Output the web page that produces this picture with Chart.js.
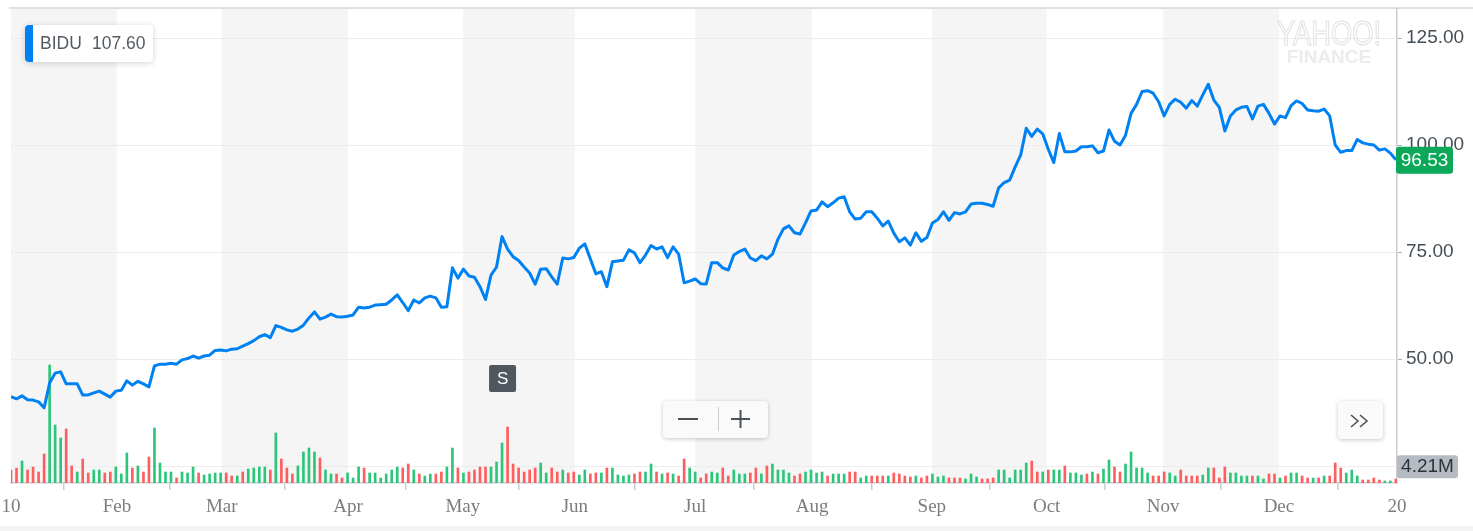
<!DOCTYPE html>
<html>
<head>
<meta charset="utf-8">
<script src="https://cdn.jsdelivr.net/npm/chart.js@4.4.1/dist/chart.umd.min.js"></script>
<style>
	html, body { margin: 0; padding: 0; background: #fff; }
	#wrap { width: 1473px; height: 531px; }
</style>
</head>
<body>
<div id="wrap"><canvas id="chart" width="1473" height="531"></canvas></div>
<script>
// BIDU daily close, one value per trading day (Jan 10 .. Dec 20)
var prices = [
	41.2, 40.7, 41.4, 40.5, 40.4, 40.0, 38.6, 44.4, 46.7, 47.0,
	44.2, 44.2, 44.2, 41.6, 41.6, 42.1, 42.5, 41.8, 41.1, 42.5,
	42.7, 44.9, 43.9, 44.8, 44.2, 43.5, 48.4, 48.8, 48.8, 49.0,
	48.8, 49.8, 50.1, 50.7, 50.2, 50.7, 50.9, 52.0, 52.1, 51.9,
	52.3, 52.4, 53.0, 53.6, 54.3, 55.2, 55.7, 55.0, 57.8, 57.4,
	56.8, 56.5, 57.0, 57.9, 59.6, 61.0, 59.3, 59.8, 60.5, 59.9,
	59.8, 60.0, 60.3, 62.1, 61.9, 62.1, 62.6, 62.7, 62.8, 63.8,
	65.0, 63.2, 61.3, 63.8, 63.1, 64.3, 64.7, 64.3, 62.1, 62.2,
	71.3, 68.9, 71.0, 69.4, 69.1, 66.9, 63.9, 69.6, 71.5, 78.6,
	75.7, 73.9, 73.0, 71.5, 70.1, 67.5, 71.0, 71.1, 69.2, 67.5,
	73.6, 73.4, 73.7, 75.9, 76.9, 73.4, 69.9, 70.4, 66.9, 72.7,
	72.9, 73.1, 75.5, 74.8, 72.5, 74.3, 76.5, 75.7, 76.2, 73.7,
	76.2, 74.5, 67.8, 68.2, 68.7, 67.6, 67.5, 72.5, 72.5, 71.3,
	70.8, 74.3, 75.1, 75.7, 73.6, 73.0, 74.1, 73.4, 74.5, 78.0,
	80.4, 81.1, 79.5, 79.2, 81.8, 84.6, 84.8, 86.7, 85.6, 86.5,
	87.6, 87.9, 84.4, 82.7, 82.9, 84.4, 84.4, 82.9, 81.1, 82.2,
	79.4, 77.4, 78.3, 76.6, 79.5, 77.5, 78.4, 81.8, 82.6, 84.4,
	82.4, 84.2, 83.9, 84.4, 86.2, 86.4, 86.4, 86.1, 85.7, 90.0,
	91.2, 91.8, 94.9, 97.7, 103.9, 102.0, 103.7, 102.6, 99.0, 95.9,
	102.7, 98.4, 98.4, 98.6, 99.6, 99.6, 99.8, 98.2, 98.6, 103.5,
	100.9, 100.0, 102.3, 107.4, 109.5, 112.5, 112.7, 112.1, 110.1, 106.8,
	109.5, 110.7, 110.0, 108.6, 110.4, 109.1, 111.7, 114.2, 110.5, 108.8,
	103.3, 106.8, 108.2, 108.8, 109.0, 106.1, 109.1, 109.5, 107.4, 104.9,
	106.8, 106.4, 109.2, 110.3, 109.7, 108.2, 108.0, 107.9, 108.4, 106.8,
	100.0, 98.3, 98.7, 98.7, 101.3, 100.5, 100.2, 100.0, 98.8, 99.1,
	98.1, 96.53
]

// daily volume, millions
var volumes = [
	3.25, 3.7, 5.5, 3.25, 4.0, 2.75, 7.25, 29.5, 14.5, 11.25,
	13.5, 4.25, 2.75, 6.0, 2.5, 3.25, 3.25, 2.5, 2.75, 4.0,
	2.25, 7.5, 3.75, 4.25, 2.75, 6.5, 13.75, 5.0, 2.75, 2.75,
	1.25, 2.75, 2.5, 4.0, 2.5, 2.0, 2.25, 2.5, 2.5, 2.5,
	1.75, 1.75, 2.75, 3.5, 3.75, 4.0, 4.0, 3.25, 12.5, 6.0,
	3.75, 2.25, 4.25, 7.75, 8.75, 7.75, 6.25, 3.25, 2.25, 2.25,
	1.25, 2.5, 1.25, 4.0, 3.75, 2.5, 2.5, 1.25, 2.25, 3.25,
	4.0, 3.75, 4.75, 3.25, 2.25, 1.75, 2.25, 2.25, 2.75, 4.0,
	8.75, 3.75, 2.5, 2.75, 3.25, 4.0, 4.0, 4.0, 5.25,
	10.0, 14.0, 4.75, 3.75, 2.75, 3.25, 3.75, 5.0, 2.5, 3.75,
	2.75, 3.25, 2.5, 2.75, 2.0, 3.25, 2.25, 2.5, 2.5, 3.75,
	3.75, 2.0, 1.75, 2.0, 2.25, 2.75, 2.75, 4.75, 2.75, 2.25,
	2.5, 2.25, 1.75, 6.0, 3.75, 2.75, 1.25, 2.25, 2.75, 2.5,
	3.75, 1.75, 3.25, 2.25, 2.25, 2.5, 3.75, 2.25, 4.25, 4.75,
	3.25, 3.25, 2.5, 1.75, 2.25, 2.75, 3.25, 2.5, 2.75, 1.75,
	2.25, 2.25, 2.25, 2.75, 2.75, 1.25, 1.75, 1.75, 1.75, 1.75,
	1.75, 2.5, 2.25, 1.75, 1.5, 1.75, 1.25, 1.75, 2.25, 1.5,
	1.75, 1.25, 1.25, 1.25, 1.0, 2.25, 1.5, 1.0, 1.0, 1.25,
	3.25,
	3.25, 1.25, 3.25, 3.25, 5.0, 5.5, 2.75, 2.75, 3.25, 3.25,
	3.25, 4.25, 2.5, 2.5, 2.0, 2.25, 2.75, 2.25, 3.5, 5.75,
	4.0, 2.75, 4.75, 7.75, 3.75, 3.75, 2.5, 1.75, 1.75, 2.75,
	2.5, 1.75, 3.25, 1.75, 1.75, 1.75, 2.0, 3.75, 3.75, 1.25,
	4.0, 2.5, 2.5, 1.75, 1.75, 1.75, 1.75, 1.0, 2.25, 2.25,
	1.25, 1.75, 2.5, 2.5, 1.75, 1.25, 1.25, 1.25, 1.75, 1.75,
	5.0, 3.75, 2.5, 3.25, 1.75, 0.75, 0.75, 1.25, 0.75, 0.5,
	0.5, 1.0
]

// 1 = closed up that day, 0 = closed down
var volumeUp = [
	0, 0, 1, 0, 0, 0, 0, 1, 1, 1, 0, 0, 1, 0, 0, 1, 1, 0, 0, 1,
	1, 1, 0, 1, 0, 0, 1, 1, 1, 1, 0, 1, 1, 1, 0, 1, 1, 1, 1, 0,
	0, 1, 0, 1, 1, 1, 1, 0, 1, 0, 0, 0, 1, 1, 1, 1, 0, 1, 1, 0,
	0, 1, 1, 1, 0, 1, 1, 1, 1, 1, 1, 0, 0, 1, 0, 1, 1, 0, 0, 1,
	1, 0, 1, 0, 0, 0, 0, 1, 1,
	1, 0, 0, 0, 0, 0, 0, 1, 1, 0, 0, 1, 0, 0, 1, 1, 0, 0, 1, 0,
	1, 1, 1, 1, 0, 0, 1, 1, 0, 1, 0, 1, 0, 0, 1, 1, 0, 0, 1, 1,
	0, 0, 1, 1, 1, 0, 0, 1, 0, 1, 1, 1, 1, 0, 0, 1, 1, 1, 1, 0,
	1, 1, 1, 0, 0, 1, 1, 0, 0, 0, 1, 0, 0, 0, 0, 1, 0, 0, 1, 1,
	1, 0, 0, 0, 1, 1, 1, 0, 0, 0, 1,
	1, 1, 1, 1, 1, 0, 0, 1, 0, 1, 1, 0, 1, 1, 1, 0, 1, 0, 1, 1,
	0, 0, 1, 1, 1, 1, 1, 0, 0, 0, 1, 1, 0, 0, 0, 0, 1, 1, 0, 0,
	0, 1, 1, 1, 1, 0, 1, 1, 0, 0, 1, 0, 1, 1, 0, 0, 1, 0, 1, 0,
	0, 0, 1, 1, 1, 0, 0, 0, 0, 1, 1, 0
]

// month starts, in trading-day index
var monthTicks = [0, 19.2, 38.2, 61.1, 81.9, 102.2, 124.0, 145.2, 166.9, 187.7, 208.8, 229.8, 251.2]
var monthLabels = ['10', 'Feb', 'Mar', 'Apr', 'May', 'Jun', 'Jul', 'Aug', 'Sep', 'Oct', 'Nov', 'Dec', '20']
var priceTicks = [50, 75, 100, 125]

var symbol = 'BIDU'
var symbolValue = '107.60'
var volumeMark = 4.21
var volumeMarkLabel = '4.21M'
var splitIndex = 89

var BLUE = '#0081f2'
var SANS = "'Liberation Sans', Arial, sans-serif"
var SERIF = "'Liberation Serif', 'DejaVu Serif', serif"

function roundRect(ctx, x, y, w, h, r) {
	ctx.beginPath()
	ctx.moveTo(x + r, y)
	ctx.arcTo(x + w, y, x + w, y + h, r)
	ctx.arcTo(x + w, y + h, x, y + h, r)
	ctx.arcTo(x, y + h, x, y, r)
	ctx.arcTo(x, y, x + w, y, r)
	ctx.closePath()
}

var decor = {
	id: 'decor',
	beforeDraw: function (chart) {
		var ctx = chart.ctx, ca = chart.chartArea, x = chart.scales.x
		ctx.save()
		ctx.fillStyle = '#fff'
		ctx.fillRect(0, 0, chart.width, chart.height)
		// month bands
		ctx.fillStyle = '#f5f5f5'
		for (var i = 0; i < monthTicks.length - 1; i += 2) {
			var a = x.getPixelForValue(monthTicks[i]), b = x.getPixelForValue(monthTicks[i + 1])
			ctx.fillRect(a, ca.top, b - a, ca.bottom - ca.top)
		}
		// frame bits
		ctx.fillStyle = '#dcdfe3'
		ctx.fillRect(ca.left - 2, ca.top - 2, chart.width - ca.left + 2, 2)
		ctx.fillStyle = '#f4f4f4'
		ctx.fillRect(0, 526, chart.width, chart.height - 526)
		ctx.restore()
	},
	beforeDatasetsDraw: function (chart) {
		var ctx = chart.ctx, ca = chart.chartArea, yv = chart.scales.yv
		ctx.save()
		var gy = Math.round(yv.getPixelForValue(volumeMark)) + 0.5
		ctx.strokeStyle = '#ececec'
		ctx.lineWidth = 1
		ctx.beginPath()
		ctx.moveTo(ca.left, gy)
		ctx.lineTo(ca.right, gy)
		ctx.stroke()
		// watermark
		ctx.textAlign = 'center'
		ctx.textBaseline = 'alphabetic'
		ctx.save()
		ctx.translate(1329, 45)
		ctx.scale(0.78, 1)
		ctx.font = '35px ' + SANS
		ctx.strokeStyle = '#e2e2e2'
		ctx.lineWidth = 1.2
		ctx.strokeText('YAHOO!', 0, 0)
		ctx.restore()
		ctx.font = 'bold 19px ' + SANS
		ctx.fillStyle = '#ececec'
		ctx.fillText('FINANCE', 1329, 63)
		ctx.restore()
	},
	afterDraw: function (chart) {
		var ctx = chart.ctx, x = chart.scales.x, y = chart.scales.y, yv = chart.scales.yv
		ctx.save()

		// legend chip
		ctx.shadowColor = 'rgba(0,0,0,0.18)'
		ctx.shadowBlur = 6
		ctx.shadowOffsetY = 1
		ctx.fillStyle = '#fff'
		roundRect(ctx, 25, 25, 128, 37, 4)
		ctx.fill()
		ctx.shadowColor = 'transparent'
		ctx.save()
		roundRect(ctx, 25, 25, 128, 37, 4)
		ctx.clip()
		ctx.fillStyle = BLUE
		ctx.fillRect(25, 25, 8, 37)
		ctx.restore()
		ctx.fillStyle = '#545b62'
		ctx.font = '17.5px ' + SANS
		ctx.textBaseline = 'middle'
		ctx.textAlign = 'left'
		ctx.fillText(symbol, 40, 44)
		ctx.fillText(symbolValue, 92, 44)

		// split marker
		var sx = x.getPixelForValue(splitIndex)
		ctx.fillStyle = '#50575e'
		roundRect(ctx, sx - 13, 365, 27, 27, 2)
		ctx.fill()
		ctx.fillStyle = '#fff'
		ctx.font = '17px ' + SANS
		ctx.textAlign = 'center'
		ctx.fillText('S', sx + 0.5, 379)

		// zoom buttons
		ctx.shadowColor = 'rgba(0,0,0,0.22)'
		ctx.shadowBlur = 4
		ctx.shadowOffsetY = 1
		ctx.fillStyle = '#fafafa'
		roundRect(ctx, 663, 401, 105, 37, 4)
		ctx.fill()
		roundRect(ctx, 1338, 401, 45, 38, 4)
		ctx.fill()
		ctx.shadowColor = 'transparent'
		ctx.strokeStyle = '#cfcfcf'
		ctx.lineWidth = 1
		ctx.beginPath()
		ctx.moveTo(718.5, 407)
		ctx.lineTo(718.5, 431)
		ctx.stroke()
		ctx.strokeStyle = '#4a5158'
		ctx.lineWidth = 2
		ctx.beginPath()
		ctx.moveTo(678, 419)
		ctx.lineTo(698, 419)
		ctx.moveTo(731, 419)
		ctx.lineTo(750, 419)
		ctx.moveTo(740.5, 410)
		ctx.lineTo(740.5, 428)
		ctx.stroke()
		ctx.lineWidth = 1.6
		ctx.beginPath()
		ctx.moveTo(1351, 415)
		ctx.lineTo(1358, 421)
		ctx.lineTo(1351, 427)
		ctx.moveTo(1360, 415)
		ctx.lineTo(1367, 421)
		ctx.lineTo(1360, 427)
		ctx.stroke()

		// last price badge
		var py = y.getPixelForValue(prices[prices.length - 1])
		ctx.fillStyle = '#0aa858'
		roundRect(ctx, 1396, py - 13, 57, 27, 3)
		ctx.fill()
		ctx.fillStyle = '#fff'
		ctx.font = '19px ' + SANS
		ctx.textAlign = 'center'
		ctx.fillText(prices[prices.length - 1].toFixed(2), 1424.5, py + 1)

		// volume badge
		var vy = yv.getPixelForValue(volumeMark)
		ctx.fillStyle = '#b6bbc3'
		roundRect(ctx, 1397, vy - 11, 61, 23, 3)
		ctx.fill()
		ctx.fillStyle = '#2f3439'
		ctx.fillText(volumeMarkLabel, 1427.5, vy + 1)

		ctx.restore()
	}
}

var priceData = prices.map(function (v, i) { return { x: i, y: v } })
var volumeData = volumes.map(function (v, i) { return { x: i, y: v } })
var volumeColors = volumeUp.map(function (u) { return u ? '#2cc67b' : '#ff5e5e' })

var chart = new Chart(document.getElementById('chart').getContext('2d'), {
	type: 'line',
	data: {
		datasets: [
			{
				label: symbol,
				data: priceData,
				borderColor: BLUE,
				borderWidth: 3,
				borderJoinStyle: 'round',
				pointRadius: 0,
				tension: 0,
				fill: false,
				yAxisID: 'y',
				order: 0,
			},
			{
				type: 'bar',
				label: 'Volume',
				data: volumeData,
				backgroundColor: volumeColors,
				barThickness: 2,
				yAxisID: 'yv',
				order: 1,
			},
		],
	},
	options: {
		responsive: false,
		animation: false,
		events: [],
		layout: { padding: { left: 11, top: 9, right: 0, bottom: 0 } },
		plugins: { legend: { display: false }, tooltip: { enabled: false } },
		scales: {
			x: {
				type: 'linear',
				min: 0,
				max: 251.2,
				offset: false,
				afterBuildTicks: function (s) { s.ticks = monthTicks.map(function (v) { return { value: v } }) },
				afterFit: function (s) { s.height = 48; s.paddingLeft = 0; s.paddingRight = 0 },
				ticks: {
					autoSkip: false,
					maxRotation: 0,
					padding: 6,
					color: '#7d7d7d',
					font: { family: SERIF, size: 19 },
					callback: function (v, i) { return monthLabels[i] },
				},
				grid: { drawOnChartArea: false, drawTicks: true, tickLength: 7, color: '#c9cdd2', lineWidth: 1.5 },
				border: { display: true, color: '#c9cdd2', width: 1.5 },
			},
			y: {
				type: 'linear',
				position: 'right',
				min: 21.03,
				max: 131.78,
				afterBuildTicks: function (s) { s.ticks = priceTicks.map(function (v) { return { value: v } }) },
				afterFit: function (s) { s.width = 76; s.paddingTop = 0; s.paddingBottom = 0 },
				ticks: {
					padding: 4,
					color: '#464e56',
					font: { family: SANS, size: 19 },
					callback: function (v) { return Number(v).toFixed(2) },
				},
				grid: { color: '#ececec', lineWidth: 1, tickLength: 5, tickColor: '#aab0b6' },
				border: { display: true, color: '#c9cdd2', width: 1.5 },
			},
			yv: {
				type: 'linear',
				display: false,
				min: 0,
				max: 118.5,
			},
		},
	},
	plugins: [decor],
})
</script>
</body>
</html>
